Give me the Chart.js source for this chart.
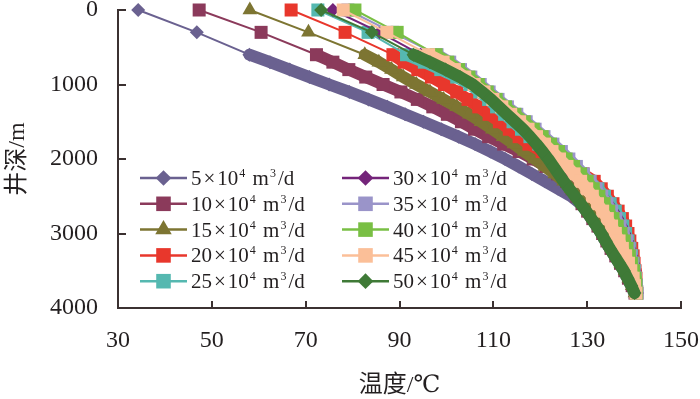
<!DOCTYPE html>
<html>
<head>
<meta charset="utf-8">
<script src="https://cdn.jsdelivr.net/npm/chart.js@4.4.1/dist/chart.umd.min.js"></script>
<style>
  html, body { margin: 0; padding: 0; background: #fff; }
</style>
</head>
<body>
<canvas id="myChart" width="700" height="399"></canvas>
<script>
// depth (m), shared by every series
const depth = [0, 300, 600, 700, 800, 900, 1000, 1100, 1200, 1300, 1400, 1500, 1600, 1700, 1800, 1900,
  2000, 2100, 2200, 2300, 2400, 2500, 2600, 2700, 2800, 2900, 3000, 3100, 3200, 3300, 3400, 3500,
  3600, 3700, 3800];

// temperature (°C), one array per flow rate
const t5 = [34.3, 46.8, 58.0, 62.4, 66.6, 70.8, 75.0, 79.3, 83.4, 87.4, 91.2, 95.1, 98.9, 102.6, 106.1, 109.4,
  112.5, 115.4, 118.2, 121.0, 123.8, 126.6, 128.6, 129.8, 130.9, 132.0, 133.0, 133.9, 134.8, 135.8, 136.8, 137.8,
  138.6, 139.4, 140.1];
const t10 = [47.3, 60.5, 72.3, 75.8, 79.2, 82.8, 86.5, 90.3, 93.8, 97.1, 100.2, 103.2, 106.0, 109.0, 112.2, 115.5,
  118.5, 121.2, 123.7, 125.6, 126.8, 127.8, 128.9, 130.1, 131.2, 132.3, 133.3, 134.2, 135.1, 136.1, 137.1, 138.0,
  138.8, 139.6, 140.2];
const t15 = [58.1, 70.6, 82.6, 85.6, 88.3, 90.8, 93.6, 96.5, 99.4, 102.2, 104.9, 107.4, 109.8, 112.1, 114.4, 116.6,
  118.8, 121.0, 123.1, 125.0, 126.6, 127.9, 129.2, 130.4, 131.5, 132.6, 133.6, 134.5, 135.4, 136.3, 137.2, 138.1,
  138.9, 139.6, 140.2];
const t20 = [66.9, 78.4, 88.6, 91.0, 93.9, 96.8, 99.6, 102.2, 104.6, 106.9, 109.1, 111.3, 113.4, 115.5, 117.6, 120.4,
  123.3, 126.2, 129.1, 131.5, 133.0, 134.3, 135.5, 136.6, 137.5, 138.2, 138.7, 139.1, 139.5, 139.8, 140.0, 140.2,
  140.4, 140.5, 140.6];
const t25 = [72.6, 83.3, 91.5, 95.3, 98.8, 102.2, 105.0, 107.1, 109.0, 110.7, 112.4, 114.2, 116.0, 117.8, 119.7, 121.8,
  124.0, 126.3, 128.6, 130.6, 132.3, 133.7, 134.9, 136.0, 136.9, 137.6, 138.2, 138.7, 139.1, 139.5, 139.8, 140.1,
  140.3, 140.5, 140.6];
const t30 = [75.8, 85.8, 94.5, 97.8, 100.9, 103.6, 105.9, 107.9, 109.8, 111.6, 113.5, 115.3, 117.2, 119.1, 121.0, 122.9,
  124.8, 126.7, 128.5, 130.2, 131.7, 133.1, 134.3, 135.4, 136.4, 137.2, 137.9, 138.5, 139.0, 139.4, 139.8, 140.1,
  140.3, 140.5, 140.6];
const t35 = [79.0, 88.5, 98.0, 100.7, 103.0, 105.2, 107.2, 109.1, 111.0, 113.0, 115.0, 117.0, 118.9, 120.8, 122.7, 124.5,
  126.1, 127.7, 129.2, 130.6, 131.9, 133.1, 134.2, 135.2, 136.1, 137.0, 137.7, 138.4, 138.9, 139.3, 139.7, 140.0,
  140.3, 140.5, 140.6];
const t40 = [80.5, 89.5, 97.8, 100.3, 102.6, 104.8, 106.8, 108.7, 110.6, 112.6, 114.6, 116.6, 118.5, 120.4, 122.2, 123.9,
  125.5, 127.1, 128.6, 130.0, 131.3, 132.5, 133.6, 134.6, 135.5, 136.4, 137.2, 137.9, 138.5, 139.0, 139.5, 139.9,
  140.2, 140.4, 140.5];
const t45 = [78.0, 87.3, 96.2, 99.3, 101.7, 103.9, 105.9, 108.0, 109.9, 111.8, 113.7, 115.6, 117.4, 119.2, 120.9, 122.5,
  124.1, 125.7, 127.2, 128.6, 129.9, 131.1, 132.2, 133.3, 134.3, 135.2, 136.0, 136.8, 137.5, 138.2, 138.8, 139.3,
  139.8, 140.1, 140.4];
const t50 = [73.3, 84.1, 93.0, 96.5, 99.8, 102.9, 105.6, 107.6, 109.5, 111.2, 112.9, 114.6, 116.3, 117.8, 119.2, 120.5,
  121.7, 122.8, 123.9, 125.0, 126.2, 127.4, 128.6, 129.8, 130.9, 132.0, 133.0, 133.9, 134.8, 135.8, 136.8, 137.8,
  138.6, 139.4, 140.1];

const series = [t5, t10, t15, t20, t25, t30, t35, t40, t45, t50];
const names = ["5×10⁴ m³/d", "10×10⁴ m³/d", "15×10⁴ m³/d", "20×10⁴ m³/d", "25×10⁴ m³/d",
  "30×10⁴ m³/d", "35×10⁴ m³/d", "40×10⁴ m³/d", "45×10⁴ m³/d", "50×10⁴ m³/d"];
const xTicks = [30, 50, 70, 90, 110, 130, 150];
const yTicks = [0, 1000, 2000, 3000, 4000];

const colores = ["#6a6190", "#8b3a5b", "#7d7532", "#e8372c", "#55b8b0",
  "#74247a", "#9a94c9", "#79bf44", "#fbbf98", "#3f7a37"];
const formas = ["rectRot", "rect", "triangle", "rect", "rect",
  "rectRot", "rect", "rect", "rect", "rectRot"];
const radios = { rectRot: 7, rect: 9.2, triangle: 8.5 };

const serif = "\"Liberation Serif\", \"Times New Roman\", \"DejaVu Serif\", \"Noto Sans CJK SC\", serif";
const ink = "#231f20";
const axisColor = "#3b3131";

const datasets = series.map((t, i) => ({
  label: names[i],
  data: depth.map((d, k) => ({ x: t[k], y: d })),
  borderColor: colores[i],
  backgroundColor: colores[i],
  pointBackgroundColor: colores[i],
  pointBorderWidth: 0,
  pointStyle: formas[i],
  pointRadius: radios[formas[i]],
  borderWidth: 2,
  borderJoinStyle: "round",
  borderCapStyle: "round",
  segment: { borderWidth: (c) => (c.p0DataIndex >= 2 ? 12 : 2) },
  tension: 0,
  clip: false,
  order: 10 - i,
}));

// small inward tick marks on both axes
const tickMarks = {
  id: "tickMarks",
  afterDraw(chart) {
    const ctx = chart.ctx;
    const x = chart.scales.x, y = chart.scales.y;
    ctx.save();
    ctx.strokeStyle = axisColor;
    ctx.lineWidth = 2;
    x.ticks.forEach((tk) => {
      const px = Math.round(x.getPixelForValue(tk.value));
      ctx.beginPath();
      ctx.moveTo(px, y.bottom);
      ctx.lineTo(px, y.bottom - 7);
      ctx.stroke();
    });
    y.ticks.forEach((tk) => {
      const py = Math.round(y.getPixelForValue(tk.value));
      ctx.beginPath();
      ctx.moveTo(x.left, py);
      ctx.lineTo(x.left + 8, py);
      ctx.stroke();
    });
    ctx.restore();
  },
};

// legend inside the plot, two columns of five
const supChars = { "⁴": "4", "³": "3" };
const legendBox = {
  id: "legendBox",
  afterDraw(chart) {
    const ctx = chart.ctx;
    ctx.save();
    chart.data.datasets.forEach((ds, i) => {
      const col = Math.floor(i / 5), row = i % 5;
      const x0 = col === 0 ? 140 : 342;
      const yy = 178 + row * 25.8;
      ctx.strokeStyle = ds.borderColor;
      ctx.lineWidth = 2.5;
      ctx.beginPath();
      ctx.moveTo(x0, yy);
      ctx.lineTo(x0 + 47, yy);
      ctx.stroke();
      ctx.fillStyle = ds.backgroundColor;
      Chart.helpers.drawPoint(ctx, { pointStyle: ds.pointStyle, radius: ds.pointRadius * 1.12, rotation: 0, borderWidth: 0 },
        x0 + 23.5, yy);
      let tx = x0 + 51;
      ctx.fillStyle = ink;
      ctx.textBaseline = "alphabetic";
      for (const ch of ds.label) {
        if (supChars[ch]) {
          ctx.font = "12px " + serif;
          ctx.fillText(supChars[ch], tx + 1, yy - 1);
          tx += ctx.measureText(supChars[ch]).width + 3;
        } else if (ch === "×") {
          ctx.font = "21px " + serif;
          ctx.fillText(ch, tx + 2, yy + 7);
          tx += ctx.measureText(ch).width + 4;
        } else {
          ctx.font = "21px " + serif;
          ctx.fillText(ch, tx, yy + 7);
          tx += ctx.measureText(ch).width;
        }
      }
    });
    ctx.restore();
  },
};

Chart.defaults.font.family = serif;
Chart.defaults.color = ink;

chart = new Chart("myChart", {
  type: "line",
  data: { datasets: datasets },
  options: {
    responsive: false,
    animation: false,
    events: [],
    layout: { padding: { left: 0, right: 19, top: 10, bottom: 0 } },
    plugins: { legend: { display: false }, tooltip: { enabled: false } },
    scales: {
      x: {
        type: "linear",
        min: 30,
        max: 150,
        afterBuildTicks: (s) => { s.ticks = xTicks.map((v) => ({ value: v })); },
        grid: { display: false, drawTicks: false },
        border: { color: axisColor, width: 2 },
        ticks: { padding: 18, font: { size: 24 }, color: ink, callback: (v) => String(v) },
        title: { display: true, text: "温度/℃", font: { size: 24, lineHeight: 1.1 }, padding: 0, color: ink },
        afterFit: (s) => { s.height = 91; s.paddingLeft = 0; s.paddingRight = 0; },
      },
      y: {
        type: "linear",
        reverse: true,
        min: 0,
        max: 4000,
        afterBuildTicks: (s) => { s.ticks = yTicks.map((v) => ({ value: v })); },
        grid: { display: false, drawTicks: false },
        border: { color: axisColor, width: 2 },
        ticks: { padding: 20, font: { size: 24 }, color: ink, callback: (v) => String(v) },
        title: { display: true, text: "井深/m", font: { size: 24 }, padding: { top: 3, bottom: 0 }, color: ink },
        afterFit: (s) => { s.width = 118; s.paddingTop = 0; s.paddingBottom = 0; },
      },
    },
  },
  plugins: [tickMarks, legendBox],
});
</script>
</body>
</html>
